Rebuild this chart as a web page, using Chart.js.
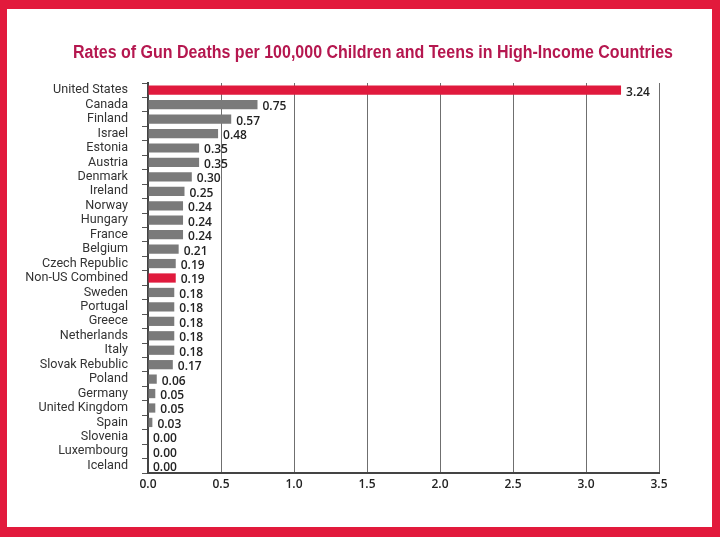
<!DOCTYPE html>
<html>
<head>
<meta charset="utf-8">
<script src="https://cdn.jsdelivr.net/npm/chart.js@4"></script>
<style>
  html, body { margin: 0; padding: 0; }
  body { width: 720px; height: 537px; background: #e21a3c; position: relative; overflow: hidden; }
  #frame { position: absolute; left: 7px; top: 9px; width: 705px; height: 518px; background: #fff; }
</style>
</head>
<body>
<div id="frame"><canvas id="gunChart" width="705" height="518"></canvas></div>
<script>
const chartTitle = 'Rates of Gun Deaths per 100,000 Children and Teens in High-Income Countries';
const countries = ['United States', 'Canada', 'Finland', 'Israel', 'Estonia', 'Austria', 'Denmark',
    'Ireland', 'Norway', 'Hungary', 'France', 'Belgium', 'Czech Republic', 'Non-US Combined',
    'Sweden', 'Portugal', 'Greece', 'Netherlands', 'Italy', 'Slovak Rebublic', 'Poland',
    'Germany', 'United Kingdom', 'Spain', 'Slovenia', 'Luxembourg', 'Iceland'];
const rates = [3.24, 0.75, 0.57, 0.48, 0.35, 0.35, 0.30, 0.25, 0.24, 0.24, 0.24, 0.21, 0.19, 0.19,
    0.18, 0.18, 0.18, 0.18, 0.18, 0.17, 0.06, 0.05, 0.05, 0.03, 0.00, 0.00, 0.00];
const highlighted = ['United States', 'Non-US Combined'];  // tyhle jsou červeně
const xTicks = [0, 0.5, 1.0, 1.5, 2.0, 2.5, 3.0, 3.5];

const RED = '#e01a3d';
const GREY = '#7a7a7a';

// nadpis - v originále je to zúžené písmo, tak ho stáhneme na šířku přes maxWidth
const narrowTitle = {
    id: 'narrowTitle',
    afterDraw(chart) {
        const ctx = chart.ctx;
        ctx.save();
        ctx.font = 'bold 18px "Liberation Sans"';
        ctx.fillStyle = '#b5174f';
        ctx.textAlign = 'center';
        ctx.textBaseline = 'middle';
        ctx.fillText(chartTitle, 366, 44, 600);
        ctx.restore();
    }
};

// popisky hodnot vpravo od sloupců
const valueLabels = {
    id: 'valueLabels',
    afterDatasetsDraw(chart) {
        const ctx = chart.ctx;
        const meta = chart.getDatasetMeta(0);
        ctx.save();
        ctx.font = '600 12px "Open Sans"';
        ctx.fillStyle = '#222';
        ctx.textBaseline = 'middle';
        meta.data.forEach((bar, i) => {
            ctx.fillText(rates[i].toFixed(2), bar.x + 5, bar.y + 2);
        });
        ctx.restore();
    }
};

const ctx = document.getElementById('gunChart').getContext('2d');
new Chart(ctx, {
    type: 'bar',
    data: {
        labels: countries,
        datasets: [{
            data: rates,
            backgroundColor: countries.map(c => highlighted.includes(c) ? RED : GREY),
            barPercentage: 0.64,
            categoryPercentage: 1
        }]
    },
    options: {
        indexAxis: 'y',
        responsive: false,
        animation: false,
        layout: { padding: { top: 74, right: 53, bottom: 0, left: 12 } },
        plugins: {
            legend: { display: false },
            tooltip: { enabled: false },
            title: { display: false }
        },
        scales: {
            x: {
                min: 0,
                max: 3.5,
                afterBuildTicks: axis => { axis.ticks = xTicks.map(v => ({ value: v })); },
                afterFit: axis => { axis.height = 54; },
                ticks: {
                    callback: v => v.toFixed(1),
                    color: '#222',
                    font: { family: '"Open Sans"', size: 12, weight: '600' },
                    padding: 4
                },
                grid: { color: '#6f6f6f', lineWidth: 1, drawTicks: false },
                border: { color: '#444', width: 2 }
            },
            y: {
                afterFit: axis => { axis.width = 129; },
                ticks: {
                    autoSkip: false,
                    color: '#333',
                    font: { family: 'Roboto', size: 12.6 },
                    padding: 14
                },
                grid: { drawOnChartArea: false, offset: true, tickLength: 6, color: '#555' },
                border: { color: '#444', width: 2 }
            }
        }
    },
    plugins: [valueLabels, narrowTitle]
});
</script>
</body>
</html>
